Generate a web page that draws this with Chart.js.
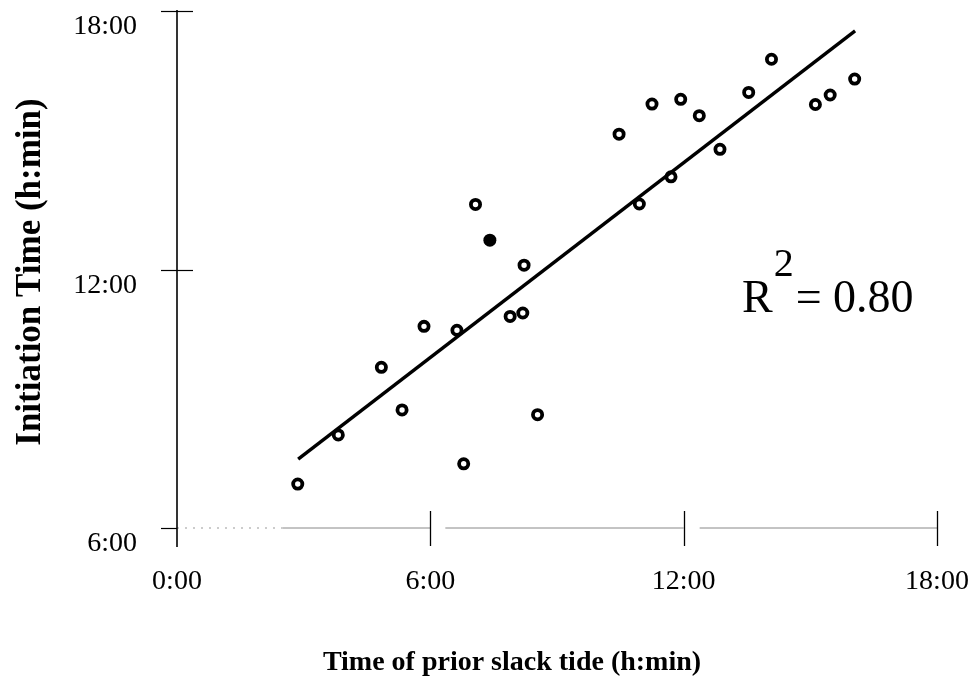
<!DOCTYPE html>
<html>
<head>
<meta charset="utf-8">
<title>Initiation time vs time of prior slack tide</title>
<script src="https://cdn.jsdelivr.net/npm/chart.js@4.4.1/dist/chart.umd.min.js"></script>
<style>
  html, body { margin: 0; padding: 0; background: #fff; }
  #wrap { width: 975px; height: 690px; }
</style>
</head>
<body>
<div id="wrap"><canvas id="tideChart" width="975" height="690"></canvas></div>
<script>
// Values in hours after midnight
const slackTide = [2.86, 3.82, 4.84, 5.33, 5.85, 6.63, 6.79, 7.07, 7.89, 8.19, 8.22, 8.54,
                   10.47, 10.95, 11.25, 11.70, 11.93, 12.37, 12.86, 13.54, 14.08, 15.12, 15.47, 16.05];
const initiation = [7.02, 8.16, 9.73, 8.74, 10.68, 10.59, 7.49, 13.51, 10.91, 10.99, 12.10, 8.63,
                    15.14, 13.52, 15.84, 14.15, 15.95, 15.57, 14.79, 16.11, 16.88, 15.83, 16.05, 16.42];

// The single solid marker
const solidTide = [7.41];
const solidInit = [12.68];

// End points of the regression line
const fitTide = [2.87, 16.06];
const fitInit = [7.60, 17.54];

const xTicks = [0, 6, 12, 18];
const yTicks = [6, 12, 18];
const rSquared = '0.80';

const serif = "'Liberation Serif', 'Times New Roman', serif";

// Turn decimal hours into h:mm
function hourLabel(v) {
    const h = Math.floor(v);
    const m = Math.round((v - h) * 60);
    return h + ':' + String(m).padStart(2, '0');
}

function toPoints(xs, ys) {
    return xs.map((x, i) => ({ x: x, y: ys[i] }));
}

function strokeLine(ctx, x1, y1, x2, y2) {
    ctx.beginPath();
    ctx.moveTo(x1, y1);
    ctx.lineTo(x2, y2);
    ctx.stroke();
}

// Axes with crossing tick marks, like the original figure
const axesPlugin = {
    id: 'axes',
    beforeDatasetsDraw(chart) {
        const ctx = chart.ctx;
        const xs = chart.scales.x;
        const ys = chart.scales.y;
        const left = xs.getPixelForValue(0);
        const base = ys.getPixelForValue(6);
        ctx.save();

        // x axis, gray and broken near the ticks
        ctx.strokeStyle = '#999';
        ctx.lineWidth = 1;
        ctx.setLineDash([2, 6]);
        strokeLine(ctx, left, base, xs.getPixelForValue(2.5), base);
        ctx.setLineDash([]);
        ctx.strokeStyle = '#888';
        strokeLine(ctx, xs.getPixelForValue(2.5), base, xs.getPixelForValue(6), base);
        strokeLine(ctx, xs.getPixelForValue(6) + 15, base, xs.getPixelForValue(12), base);
        strokeLine(ctx, xs.getPixelForValue(12) + 16, base, xs.getPixelForValue(18), base);

        // x tick marks
        ctx.strokeStyle = '#000';
        ctx.lineWidth = 1.3;
        xTicks.slice(1).forEach(v => {
            const px = Math.round(xs.getPixelForValue(v)) + 0.5;
            strokeLine(ctx, px, base - 17, px, base + 18);
        });

        // y axis, running a little below the x axis
        ctx.lineWidth = 1.6;
        strokeLine(ctx, left, ys.getPixelForValue(18) - 1, left, base + 19);

        // y tick marks
        ctx.lineWidth = 1.2;
        yTicks.forEach(v => {
            const py = Math.round(ys.getPixelForValue(v)) + 0.5;
            const right = v === 6 ? left : left + 16;
            strokeLine(ctx, left - 16, py, right, py);
        });
        ctx.restore();
    }
};

// Axis titles and the R squared note
const textPlugin = {
    id: 'texts',
    afterDraw(chart) {
        const ctx = chart.ctx;
        ctx.save();
        ctx.fillStyle = '#000';

        // y title
        ctx.save();
        ctx.translate(40, 272);
        ctx.rotate(-Math.PI / 2);
        ctx.font = 'bold 35px ' + serif;
        ctx.textAlign = 'center';
        ctx.textBaseline = 'alphabetic';
        ctx.fillText('Initiation Time (h:min)', 0, 0);
        ctx.restore();

        // x title
        ctx.font = 'bold 28px ' + serif;
        ctx.textAlign = 'center';
        ctx.textBaseline = 'alphabetic';
        ctx.fillText('Time of prior slack tide (h:min)', 512, 670);

        // R^2 = 0.80
        ctx.textAlign = 'left';
        let x = 742;
        ctx.font = '46px ' + serif;
        ctx.fillText('R', x, 312);
        x += ctx.measureText('R').width + 1;
        ctx.font = '40px ' + serif;
        ctx.fillText('2', x, 276);
        x += ctx.measureText('2').width + 2;
        ctx.font = '46px ' + serif;
        ctx.fillText('= ' + rSquared, x, 312);
        ctx.restore();
    }
};

function renderChart() {
    const ctx = document.getElementById('tideChart').getContext('2d');

    window.tideChart = new Chart(ctx, {
        type: 'scatter',
        data: {
            datasets: [
                {
                    label: 'Fit',
                    type: 'line',
                    data: toPoints(fitTide, fitInit),
                    borderColor: '#000',
                    borderWidth: 3.4,
                    pointRadius: 0,
                    fill: false
                },
                {
                    label: 'Observed',
                    data: toPoints(slackTide, initiation),
                    pointRadius: 4.6,
                    borderWidth: 3.8,
                    borderColor: '#000',
                    backgroundColor: '#fff'
                },
                {
                    label: 'Solid',
                    data: toPoints(solidTide, solidInit),
                    pointRadius: 6.5,
                    borderWidth: 0,
                    backgroundColor: '#000'
                }
            ]
        },
        options: {
            responsive: false,
            animation: false,
            layout: { padding: { top: 11, right: 38, left: 0, bottom: 0 } },
            plugins: {
                legend: { display: false },
                tooltip: { enabled: false }
            },
            scales: {
                x: {
                    type: 'linear',
                    min: 0,
                    max: 18,
                    grid: { display: false, drawTicks: false },
                    border: { display: false },
                    afterBuildTicks: s => { s.ticks = xTicks.map(v => ({ value: v })); },
                    afterFit: s => { s.height = 162; s.paddingLeft = 0; s.paddingRight = 0; },
                    ticks: {
                        padding: 37,
                        color: '#000',
                        maxRotation: 0,
                        font: { family: serif, size: 28 },
                        callback: v => hourLabel(v)
                    }
                },
                y: {
                    type: 'linear',
                    min: 6,
                    max: 18,
                    grid: { display: false, drawTicks: false },
                    border: { display: false },
                    afterBuildTicks: s => { s.ticks = yTicks.map(v => ({ value: v })); },
                    afterFit: s => { s.width = 177; s.paddingTop = 0; s.paddingBottom = 0; },
                    ticks: {
                        padding: 40,
                        labelOffset: 16,
                        color: '#000',
                        font: { family: serif, size: 28 },
                        callback: v => hourLabel(v)
                    }
                }
            }
        },
        plugins: [axesPlugin, textPlugin]
    });
}

renderChart();
</script>
</body>
</html>
